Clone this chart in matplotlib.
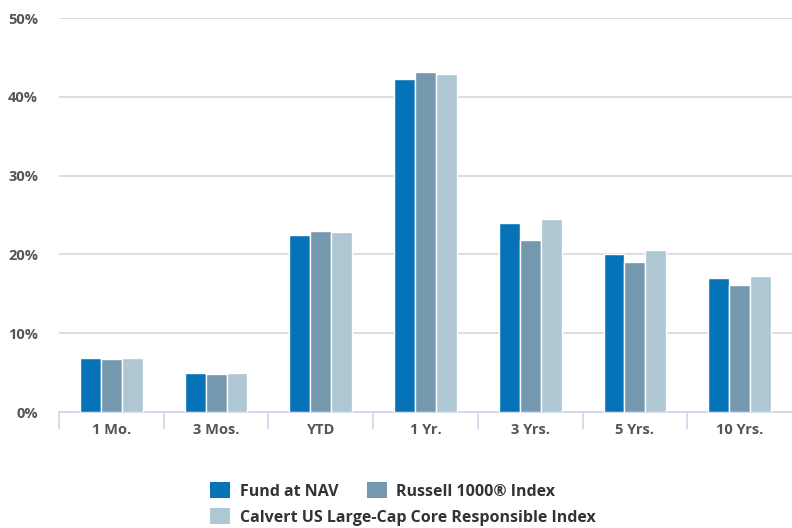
import matplotlib
matplotlib.use("Agg")
import matplotlib.pyplot as plt
from matplotlib.patches import Patch
import numpy as np

categories = ["1 Mo.", "3 Mos.", "YTD", "1 Yr.", "3 Yrs.", "5 Yrs.", "10 Yrs."]
series_names = ["Fund at NAV", "Russell 1000® Index", "Calvert US Large-Cap Core Responsible Index"]
fund = [6.9, 5.0, 22.5, 42.2, 24.0, 20.05, 16.95]
russell = [6.7, 4.85, 23.0, 43.2, 21.8, 19.0, 16.1]
calvert = [6.9, 5.0, 22.8, 42.85, 24.5, 20.6, 17.3]
yticks = [0, 10, 20, 30, 40, 50]

colors = ["#0673b8", "#7499ae", "#afc6d3"]
text_color = "#555555"

plt.rcParams['font.family'] = ['Open Sans', 'DejaVu Sans']

fig = plt.figure(figsize=(7.92, 5.28), dpi=100)
ax = fig.add_axes([59/792, 1-412/528, 1-59/792, (412-18)/528])

x = np.arange(len(categories))
w = 0.2
for i, (vals, c) in enumerate(zip([fund, russell, calvert], colors)):
    ax.bar(x + (i-1)*w, vals, width=w, color=c, edgecolor="white", linewidth=1.0, zorder=3, label=series_names[i])

ax.set_xlim(-0.5, len(categories)-0.5)
ax.set_ylim(0, 50)
ax.set_yticks(yticks)
ax.set_yticklabels([f"{v}%" for v in yticks])
ax.yaxis.grid(True, color="#d8d8d8", linewidth=1.2, zorder=0)
ax.set_axisbelow(True)
for s in ["top", "right", "left"]:
    ax.spines[s].set_visible(False)
ax.spines["bottom"].set_color("#ccd6eb")
ax.spines["bottom"].set_linewidth(1.2)
ax.set_xticks(x)
ax.set_xticklabels(categories)
ax.tick_params(axis="x", length=0, pad=8, labelsize=10.5, labelcolor=text_color)
ax.set_xticks(np.arange(len(categories)) - 0.5, minor=True)
ax.tick_params(axis="x", which="minor", length=12, width=1.2, color="#ccd6eb")
ax.tick_params(axis="y", length=0, pad=15, labelsize=10.5, labelcolor=text_color)
for lab in ax.get_xticklabels() + ax.get_yticklabels():
    lab.set_fontweight("bold")

handles = [Patch(facecolor=c, edgecolor="none") for c in colors]
leg_kw = dict(frameon=False, prop={"size": 11.5, "weight": "bold"}, labelcolor="#333333",
              handlelength=1.25, handleheight=1.1, handletextpad=0.6, borderpad=0, borderaxespad=0,
              columnspacing=1.8)
leg1 = fig.legend(handles[:2], series_names[:2], ncol=2, loc="center left",
                  bbox_to_anchor=(210/792, 1-491/528), **leg_kw)
leg2 = fig.legend(handles[2:], series_names[2:], ncol=1, loc="center left",
                  bbox_to_anchor=(210/792, 1-517/528), **leg_kw)

fig.savefig("out.png", dpi=100)
